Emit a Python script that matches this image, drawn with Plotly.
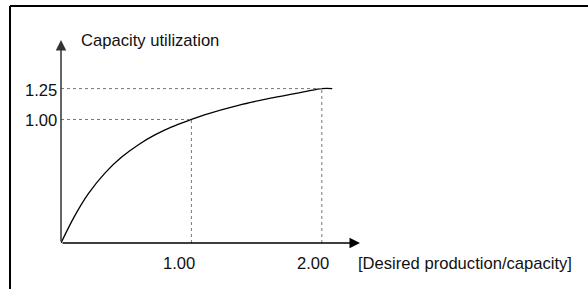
import plotly.graph_objects as go

# ---- data ----
curve_x = [0, 0.10, 0.21, 0.34, 0.47, 0.60, 0.72, 0.85, 1.00, 1.10, 1.36, 1.62, 1.87, 2.00, 2.08]
curve_y = [0, 0.21, 0.40, 0.57, 0.70, 0.80, 0.875, 0.94, 1.00, 1.038, 1.115, 1.175, 1.225, 1.25, 1.25]
x_ticks = [1.0, 2.0]
x_tick_labels = ["1.00", "2.00"]
y_ticks = [1.0, 1.25]
y_tick_labels = ["1.00", "1.25"]
x_title = "[Desired production/capacity]"
y_title = "Capacity utilization"

# ---- layout geometry ----
W, H = 588, 289
ML, MR, MT, MB = 61, 201, 33, 46
XMAX, YMAX = 2.5, 1.7
X_ARROW, Y_ARROW = 2.293, 1.643
PW = W - ML - MR
PH = H - MT - MB

def px_x(p):
    return (p - ML) / PW

def px_y(p):
    return (H - MB - p) / PH

FONT = dict(family="Liberation Sans, Arial, Helvetica, sans-serif", size=16.6, color="#111111")

fig = go.Figure()
fig.add_trace(go.Scatter(x=curve_x, y=curve_y, mode="lines",
                         line=dict(color="black", width=1.3, shape="spline", smoothing=1.0),
                         cliponaxis=False, hoverinfo="skip"))

shapes = []
grid = dict(color="#777777", width=1, dash="dot")
# dotted reference lines
shapes.append(dict(type="line", xref="x", yref="y", x0=0, x1=x_ticks[0], y0=y_ticks[0], y1=y_ticks[0], line=grid))
shapes.append(dict(type="line", xref="x", yref="y", x0=0, x1=x_ticks[1], y0=y_ticks[1], y1=y_ticks[1], line=grid))
shapes.append(dict(type="line", xref="x", yref="y", x0=x_ticks[0], x1=x_ticks[0], y0=0, y1=y_ticks[0], line=grid))
shapes.append(dict(type="line", xref="x", yref="y", x0=x_ticks[1], x1=x_ticks[1], y0=0, y1=y_ticks[1], line=grid))
# frame (top and left edges)
frame = dict(color="black", width=2)
shapes.append(dict(type="line", xref="paper", yref="paper", x0=px_x(10), x1=px_x(600), y0=px_y(6), y1=px_y(6), line=frame))
shapes.append(dict(type="line", xref="paper", yref="paper", x0=px_x(10), x1=px_x(10), y0=px_y(6), y1=px_y(300), line=frame))

annotations = []
# axes with arrowheads
annotations.append(dict(x=X_ARROW, y=0, ax=0, ay=0, xref="x", yref="y", axref="x", ayref="y",
                        showarrow=True, arrowhead=2, arrowsize=1.4, arrowwidth=1.5, arrowcolor="black", text=""))
annotations.append(dict(x=0, y=Y_ARROW, ax=0, ay=0, xref="x", yref="y", axref="x", ayref="y",
                        showarrow=True, arrowhead=2, arrowsize=1.4, arrowwidth=1.5, arrowcolor="#333333", text=""))
# tick labels
for v, t, sh in zip(x_ticks, x_tick_labels, [-12, -9]):
    annotations.append(dict(x=v, y=0, xref="x", yref="y", text=t, showarrow=False,
                            xanchor="center", yanchor="middle", xshift=sh, yshift=-20, font=FONT))
for v, t, sh in zip(y_ticks, y_tick_labels, [-1, -2]):
    annotations.append(dict(x=0, y=v, xref="x", yref="y", text=t, showarrow=False,
                            xanchor="right", yanchor="middle", xshift=-2, yshift=sh, font=FONT))
# titles
annotations.append(dict(x=px_x(79), y=px_y(40), xref="paper", yref="paper", text=y_title, showarrow=False,
                        xanchor="left", yanchor="middle", font=FONT))
annotations.append(dict(x=px_x(356), y=px_y(263), xref="paper", yref="paper", text=x_title, showarrow=False,
                        xanchor="left", yanchor="middle", font=FONT))

fig.update_layout(
    width=W, height=H,
    margin=dict(l=ML, r=MR, t=MT, b=MB, pad=0),
    paper_bgcolor="white", plot_bgcolor="white",
    showlegend=False,
    xaxis=dict(range=[0, XMAX], visible=False, fixedrange=True),
    yaxis=dict(range=[0, YMAX], visible=False, fixedrange=True),
    shapes=shapes, annotations=annotations,
)
fig.write_html("out.html", config={"displayModeBar": False},
               post_script="document.body.style.margin='0';document.body.style.overflow='hidden';")
